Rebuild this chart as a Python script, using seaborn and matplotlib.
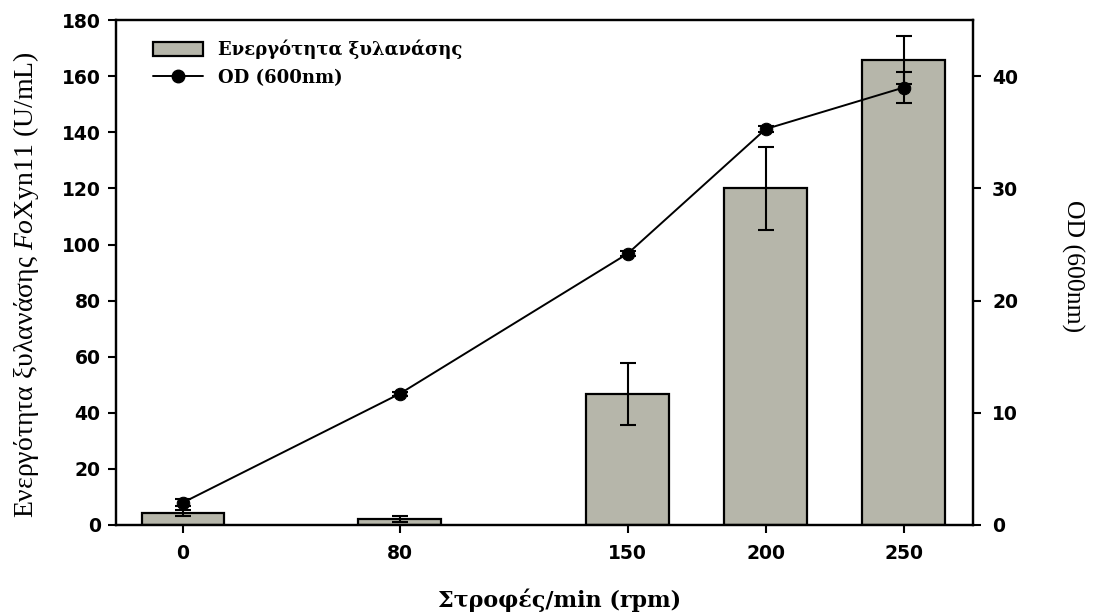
import matplotlib
matplotlib.use("Agg")
import matplotlib.pyplot as plt
import seaborn as sns
import pandas as pd
from matplotlib.patches import Patch
from matplotlib.lines import Line2D

# ---- data ----
rpm_labels = ["0", "80", "150", "200", "250"]
activity = [4.3, 2.1, 46.7, 120.0, 165.7]          # U/mL
activity_err = [1.1, 1.1, 10.9, 14.8, 8.6]
od600 = [2.0, 11.7, 24.2, 35.3, 39.0]
od600_err = [0.3, 0.2, 0.2, 0.3, 1.4]

# ---- layout (x positions of the groups on the axis) ----
x_pos = [0.0, 1.572, 3.225, 4.225, 5.225]

sns.set_style("ticks")
plt.rcParams['font.family'] = ['DejaVu Sans']
plt.rcParams['text.color'] = 'black'
plt.rcParams['axes.labelcolor'] = 'black'
plt.rcParams['mathtext.fontset'] = 'custom'
plt.rcParams['mathtext.it'] = 'Liberation Serif:italic'
plt.rcParams['mathtext.rm'] = 'Liberation Serif'

SERIF = ["Liberation Serif", "DejaVu Serif"]
BSERIF = ["DejaVu Serif"]

df = pd.DataFrame({"pos": x_pos, "activity": activity, "od": od600})

fig = plt.figure(figsize=(10.94, 6.14), dpi=100)
ax = fig.add_axes([0.106, 0.145, 0.783, 0.822])

sns.barplot(data=df, x="pos", y="activity", native_scale=True, width=0.6,
            color="#b6b6aa", edgecolor="black", linewidth=1.6, saturation=1,
            errorbar=None, ax=ax, zorder=2)
ax.errorbar(x_pos, activity, yerr=activity_err, fmt="none", ecolor="black",
            elinewidth=1.5, capsize=6, capthick=1.5, zorder=3)

ax2 = ax.twinx()
sns.lineplot(data=df, x="pos", y="od", color="black", linewidth=1.4,
             marker="o", markersize=9, markeredgecolor="black", ax=ax2, zorder=4)
ax2.errorbar(x_pos, od600, yerr=od600_err, fmt="none", ecolor="black",
             elinewidth=1.5, capsize=6, capthick=1.5, zorder=4)

ax.set_xlim(-0.486, 5.725)
ax.set_ylim(0, 180)
ax2.set_ylim(0, 45)
ax.set_yticks(range(0, 181, 20))
ax2.set_yticks(range(0, 41, 10))
ax.set_xticks(x_pos)
ax.set_xticklabels(rpm_labels)

for a in (ax, ax2):
    for sp in a.spines.values():
        sp.set_visible(True)
        sp.set_linewidth(1.6)
        sp.set_color("black")
    a.tick_params(direction="out", length=6, width=1.5, colors="black", labelsize=13.5)
    for lab in a.get_xticklabels() + a.get_yticklabels():
        lab.set_fontweight("bold")
        lab.set_family("DejaVu Sans")
ax.tick_params(axis="y", pad=5)
ax.tick_params(axis="x", pad=8)
ax2.tick_params(axis="y", pad=8)

ax.set_xlabel("Στροφές/min (rpm)", family=BSERIF, fontsize=16, fontweight="bold",
              va="center", ha="center", color="black")
ax.xaxis.set_label_coords(0.518, -0.1485)
ax.set_ylabel(r"Ενεργότητα ξυλανάσης $\mathit{Fo}$Xyn11 (U/mL)",
              family=SERIF, fontsize=20, va="center", ha="center", color="black")
ax.yaxis.set_label_coords(-0.105, 0.477)
ax2.set_ylabel("OD (600nm)", family=SERIF, fontsize=18.5, rotation=270,
               va="center", ha="center", color="black")
ax2.yaxis.set_label_coords(1.1167, 0.513)

handles = [Patch(facecolor="#b6b6aa", edgecolor="black", linewidth=1.6),
           Line2D([0], [0], color="black", linewidth=1.4, marker="o", markersize=9)]
leg = ax.legend(handles, ["Ενεργότητα ξυλανάσης", "OD (600nm)"], loc="upper left",
                bbox_to_anchor=(0.043, 0.962), frameon=False, handlelength=2.77,
                handleheight=0.8, handletextpad=0.83, labelspacing=0.55,
                borderpad=0, borderaxespad=0,
                prop={"family": BSERIF, "weight": "bold", "size": 13})
for t in leg.get_texts():
    t.set_color("black")

fig.savefig("out.png", dpi=100)
